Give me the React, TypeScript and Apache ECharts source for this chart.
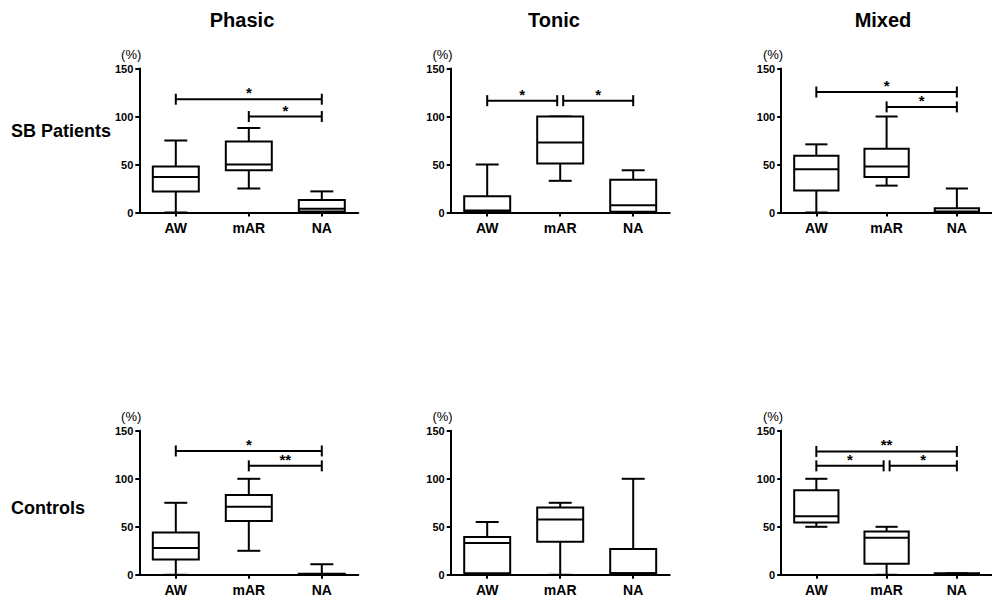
import React, { useEffect, useRef } from "react";
import * as echarts from "echarts";

// ---- Data ----
const categories = ["AW", "mAR", "NA"];
const columnTitles = ["Phasic", "Tonic", "Mixed"];
const rowTitles = ["SB Patients", "Controls"];
const yTicks = [0, 50, 100, 150];

// [min, Q1, median, Q3, max] per category
const phasicSB = [
  [0, 22, 37, 48, 75],
  [25, 44, 50, 74, 88],
  [0, 1, 4, 13, 22],
];
const tonicSB = [
  [0, 0.5, 2, 17, 50],
  [33, 51, 73, 100, 100],
  [0, 0.7, 7.5, 34, 44],
];
const mixedSB = [
  [0, 23, 45, 59, 71],
  [28, 37, 48, 66.5, 100],
  [0, 0, 1, 4.5, 25],
];
const phasicCtrl = [
  [0, 16, 28, 44, 75],
  [25, 56, 71, 83, 100],
  [0, 0, 0.5, 1, 11],
];
const tonicCtrl = [
  [0, 1.5, 33, 39.5, 55],
  [0, 34.5, 57.5, 70, 75],
  [0, 1.5, 1.5, 27, 100],
];
const mixedCtrl = [
  [50, 54.5, 61, 88, 100],
  [0, 11.5, 38.5, 45, 50],
  [0, 0, 0.5, 1.5, 1.5],
];

// significance brackets: [fromCategory, toCategory, level, label]
const sigPhasicSB = [
  [0, 2, 118, "*"],
  [1, 2, 100, "*"],
];
const sigTonicSB = [
  [0, 1, 116.5, "*"],
  [1, 2, 116.5, "*"],
];
const sigMixedSB = [
  [0, 2, 125.5, "*"],
  [1, 2, 110, "*"],
];
const sigPhasicCtrl = [
  [0, 2, 129, "*"],
  [1, 2, 113.5, "**"],
];
const sigTonicCtrl: any[] = [];
const sigMixedCtrl = [
  [0, 2, 128.5, "**"],
  [0, 1, 113.5, "*"],
  [1, 2, 113.5, "*"],
];

const panels = [
  { boxes: phasicSB, sig: sigPhasicSB },
  { boxes: tonicSB, sig: sigTonicSB },
  { boxes: mixedSB, sig: sigMixedSB },
  { boxes: phasicCtrl, sig: sigPhasicCtrl },
  { boxes: tonicCtrl, sig: sigTonicCtrl },
  { boxes: mixedCtrl, sig: sigMixedCtrl },
];

// ---- Layout ----
const FONT = "'Liberation Sans', Arial, Helvetica, sans-serif";
const colLefts = [139.3, 450.7, 781.2];
const rowTops = [68.5, 430.8];
const GRID_W = 219;
const GRID_H = 144;

export default function App() {
  const ref = useRef<HTMLDivElement>(null);

  useEffect(() => {
    document.body.style.margin = "0";
    if (!ref.current) return;
    const chart = echarts.init(ref.current, undefined, { renderer: "svg" });

    const grids: any[] = [];
    const xAxes: any[] = [];
    const yAxes: any[] = [];
    const series: any[] = [];

    panels.forEach((p, i) => {
      const col = i % 3;
      const row = Math.floor(i / 3);
      grids.push({
        left: colLefts[col],
        top: rowTops[row],
        width: GRID_W,
        height: GRID_H,
        containLabel: false,
      });
      xAxes.push({
        type: "category",
        gridIndex: i,
        data: categories,
        boundaryGap: true,
        axisLine: { show: true, onZero: false, lineStyle: { color: "#000", width: 2 } },
        axisTick: { show: true, alignWithLabel: true, length: 4, lineStyle: { color: "#000", width: 2 } },
        axisLabel: {
          color: "#000",
          fontFamily: FONT,
          fontWeight: "bold",
          fontSize: 14,
          margin: 8,
        },
        splitLine: { show: false },
      });
      yAxes.push({
        type: "value",
        gridIndex: i,
        min: yTicks[0],
        max: yTicks[yTicks.length - 1],
        interval: 50,
        name: "(%)",
        nameLocation: "end",
        nameGap: 8,
        nameTextStyle: {
          color: "#000",
          fontFamily: FONT,
          fontSize: 13,
          align: "right",
          padding: [0, -2, 0, 0],
        },
        axisLine: { show: true, lineStyle: { color: "#000", width: 2 } },
        axisTick: { show: true, length: 4, lineStyle: { color: "#000", width: 2 } },
        axisLabel: {
          color: "#000",
          fontFamily: FONT,
          fontWeight: "bold",
          fontSize: 11,
          margin: 6,
        },
        splitLine: { show: false },
      });

      // box plot series
      series.push({
        type: "custom",
        xAxisIndex: i,
        yAxisIndex: i,
        data: p.boxes.map((b, ci) => [ci, ...b]),
        encode: { x: 0, y: [1, 2, 3, 4, 5] },
        clip: false,
        renderItem: (params: any, api: any) => {
          const ci = api.value(0);
          const vals = [1, 2, 3, 4, 5].map((k) => api.value(k));
          const x = api.coord([ci, 0])[0];
          const band = api.size([1, 0])[0];
          const hw = band * 0.315;
          const cw = hw / 2;
          const ys = vals.map((v: number) => api.coord([ci, v])[1]);
          const [yMin, yQ1, yMed, yQ3, yMax] = ys;
          const ls = { stroke: "#000", lineWidth: 2, fill: null };
          return {
            type: "group",
            children: [
              { type: "line", shape: { x1: x, y1: yQ1, x2: x, y2: yMin }, style: ls },
              { type: "line", shape: { x1: x, y1: yQ3, x2: x, y2: yMax }, style: ls },
              { type: "line", shape: { x1: x - cw, y1: yMin, x2: x + cw, y2: yMin }, style: ls },
              { type: "line", shape: { x1: x - cw, y1: yMax, x2: x + cw, y2: yMax }, style: ls },
              {
                type: "rect",
                shape: { x: x - hw, y: yQ3, width: 2 * hw, height: Math.max(yQ1 - yQ3, 0.5) },
                style: { stroke: "#000", lineWidth: 2, fill: "#fff" },
              },
              { type: "line", shape: { x1: x - hw, y1: yMed, x2: x + hw, y2: yMed }, style: ls },
            ],
          };
        },
        z: 3,
      });

      // significance brackets
      if (p.sig.length) {
        const sigs = p.sig;
        series.push({
          type: "custom",
          xAxisIndex: i,
          yAxisIndex: i,
          data: sigs.map((s: any) => [s[0], s[1], s[2]]),
          clip: false,
          renderItem: (params: any, api: any) => {
            const idx = params.dataIndex;
            const s: any = sigs[idx];
            const a = api.value(0);
            const b = api.value(1);
            const lvl = api.value(2);
            const y = api.coord([a, lvl])[1];
            let x1 = api.coord([a, lvl])[0];
            let x2 = api.coord([b, lvl])[0];
            // inset where two brackets at the same level meet
            sigs.forEach((o: any, j: number) => {
              if (j === idx || o[2] !== lvl) return;
              if (o[1] === a || o[0] === a) x1 += 3;
              if (o[0] === b || o[1] === b) x2 -= 3;
            });
            const ls = { stroke: "#000", lineWidth: 2, fill: null };
            return {
              type: "group",
              children: [
                { type: "line", shape: { x1, y1: y, x2, y2: y }, style: ls },
                { type: "line", shape: { x1, y1: y - 5.5, x2: x1, y2: y + 5.5 }, style: ls },
                { type: "line", shape: { x1: x2, y1: y - 5.5, x2, y2: y + 5.5 }, style: ls },
                {
                  type: "text",
                  x: (x1 + x2) / 2,
                  y: y + 1,
                  style: {
                    text: s[3],
                    fill: "#000",
                    font: `bold 15px ${FONT}`,
                    textAlign: "center",
                    textVerticalAlign: "bottom",
                  },
                },
              ],
            };
          },
          z: 4,
        });
      }
    });

    const titleCenters = [242, 554, 883];
    const graphics: any[] = columnTitles.map((t, k) => ({
      type: "text",
      x: titleCenters[k],
      y: 20,
      style: {
        text: t,
        fill: "#000",
        font: `bold 20px ${FONT}`,
        textAlign: "center",
        textVerticalAlign: "middle",
      },
    }));
    const rowCenters = [131, 508];
    rowTitles.forEach((t, k) => {
      graphics.push({
        type: "text",
        x: 11,
        y: rowCenters[k],
        style: {
          text: t,
          fill: "#000",
          font: `bold 18px ${FONT}`,
          textAlign: "left",
          textVerticalAlign: "middle",
        },
      });
    });

    chart.setOption({
      animation: false,
      backgroundColor: "#fff",
      textStyle: { fontFamily: FONT },
      grid: grids,
      xAxis: xAxes,
      yAxis: yAxes,
      series,
      graphic: graphics,
    });

    return () => chart.dispose();
  }, []);

  return <div ref={ref} style={{ width: 992, height: 602 }} />;
}
